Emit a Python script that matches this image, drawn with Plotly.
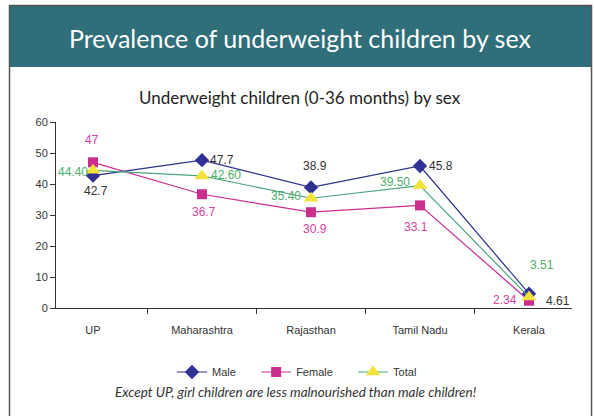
import plotly.graph_objects as go

states = ["UP", "Maharashtra", "Rajasthan", "Tamil Nadu", "Kerala"]
male = [42.7, 47.7, 38.9, 45.8, 4.61]
female = [47, 36.7, 30.9, 33.1, 2.34]
total = [44.40, 42.60, 35.40, 39.50, 3.51]

male_labels = ["42.7", "47.7", "38.9", "45.8", "4.61"]
female_labels = ["47", "36.7", "30.9", "33.1", "2.34"]
total_labels = ["44.40", "42.60", "35.40", "39.50", "3.51"]

# label offsets in pixels (xshift, yshift)
male_off = [(3, -15), (20, 0), (4, 21), (21, 0), (29, -7)]
female_off = [(-1, 22), (2, -18), (4, -17), (-4, -22), (-24, 1)]
total_off = [(-20, -2), (24, 1), (-25, 2), (-25, 4), (13, 32)]

W, H = 594, 416
L, T = 56, 122
R, B = W - 572, H - 308
PW, PH = W - L - R, H - T - B


def px(x):
    return (x - L) / PW


def py(y):
    return (H - B - y) / PH


pad = "\u00a0" * 5

fig = go.Figure()
fig.add_trace(go.Scatter(
    x=states, y=female, name="Female" + pad, mode="lines+markers",
    line=dict(color="#cc2e8f", width=1.2),
    marker=dict(symbol="square", size=10, color="#cc2e8f"),
))
fig.add_trace(go.Scatter(
    x=states, y=male, name="Male" + pad, mode="lines+markers",
    line=dict(color="#2e3192", width=1.2),
    marker=dict(symbol="diamond", size=11, color="#2e3192"),
))
fig.add_trace(go.Scatter(
    x=states, y=total, name="Total", mode="lines+markers",
    line=dict(color="#4aa67a", width=1.2),
    marker=dict(symbol="triangle-up", size=13, color="#f3e23a"),
))

label_font = "Liberation Sans, Arial, sans-serif"
for vals, labels, offs, col in [
    (male, male_labels, male_off, "#333333"),
    (female, female_labels, female_off, "#d9409e"),
    (total, total_labels, total_off, "#4aae68"),
]:
    for s, v, t, (dx, dy) in zip(states, vals, labels, offs):
        fig.add_annotation(x=s, y=v, text=t, showarrow=False, xshift=dx, yshift=dy,
                           font=dict(family=label_font, size=12, color=col))

# header band and frame
fig.add_shape(type="rect", xref="paper", yref="paper",
              x0=px(10), x1=px(591), y0=py(67), y1=py(6),
              fillcolor="#306e7a", line=dict(width=0), layer="below")
fig.add_shape(type="path", xref="paper", yref="paper",
              path=f"M {px(9.5)} {py(430)} L {px(9.5)} {py(5.5)} L {px(591.5)} {py(5.5)} L {px(591.5)} {py(430)}",
              line=dict(color="#555555", width=1.5))

fig.add_annotation(xref="paper", yref="paper", x=px(300), y=py(38),
                   xanchor="center", yanchor="middle",
                   text="Prevalence of underweight children by sex", showarrow=False,
                   font=dict(family="Lato, sans-serif", size=25, color="white"))
fig.add_annotation(xref="paper", yref="paper", x=px(300), y=py(98),
                   xanchor="center", yanchor="middle",
                   text="Underweight children (0-36 months) by sex", showarrow=False,
                   font=dict(family="Lato, sans-serif", size=17, color="#222222"))
fig.add_annotation(xref="paper", yref="paper", x=px(295), y=py(392),
                   xanchor="center", yanchor="middle",
                   text="<i>Except UP, girl children are less malnourished than male children!</i>",
                   showarrow=False,
                   font=dict(family="Lato, sans-serif", size=13.5, color="#333333"))

fig.update_layout(
    width=W, height=H,
    margin=dict(l=L, r=R, t=T, b=B),
    paper_bgcolor="white", plot_bgcolor="white",
    showlegend=True,
    legend=dict(orientation="h", x=px(172), xanchor="left", y=py(372), yanchor="middle",
                font=dict(family=label_font, size=11, color="#333333"),
                itemwidth=30, tracegroupgap=0, bgcolor="rgba(0,0,0,0)",
                traceorder="normal"),
    xaxis=dict(showgrid=False, showline=True, linecolor="#333333", linewidth=1,
               ticks="outside", ticklen=5, tickcolor="#333333", tickson="boundaries",
               ticklabelstandoff=12,
               tickfont=dict(family=label_font, size=11, color="#333333")),
    yaxis=dict(range=[0, 60], dtick=10, showgrid=False, showline=True, linecolor="#333333",
               linewidth=1, ticks="outside", ticklen=5, tickcolor="#333333", zeroline=False,
               tickfont=dict(family=label_font, size=11, color="#333333")),
)

# legend order Male, Female, Total while Female is drawn underneath
fig.data[0].legendrank = 2
fig.data[1].legendrank = 1
fig.data[2].legendrank = 3

# drop the default page margin so the figure fills the window exactly
fig.write_html("out.html", config={"displayModeBar": False},
               post_script="document.body.style.margin = '0';")
